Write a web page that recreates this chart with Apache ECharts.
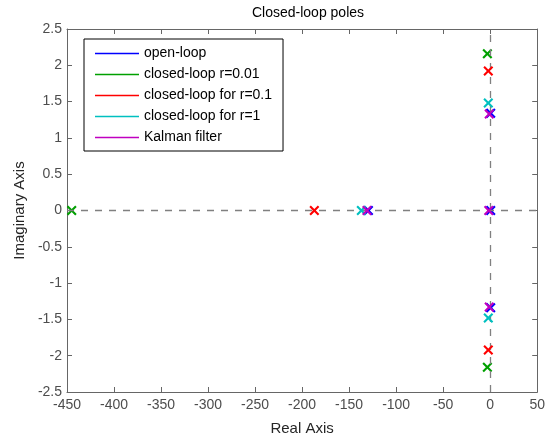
<!DOCTYPE html>
<html><head><meta charset="utf-8">
<script src="https://cdn.jsdelivr.net/npm/echarts@6/dist/echarts.min.js"></script>
<style>html,body{margin:0;padding:0;background:#fff}#c{width:548px;height:441px}</style>
</head><body><div id="c"></div>
<script>
const seriesNames = ['open-loop','closed-loop r=0.01','closed-loop for r=0.1','closed-loop for r=1','Kalman filter'];
const seriesColors = ['#0000ff','#00a000','#ff0000','#00c0c0','#c000c0'];
const openLoop = [[0.5,0],[-129.5,0],[0.5,1.34],[0.5,-1.34]];
const closedR001 = [[-445,0],[-3,2.16],[-3,-2.16]];
const closedR01 = [[-187,0],[-2,1.92],[-2,-1.92]];
const closedR1 = [[-137,0],[-2,1.48],[-2,-1.48]];
const kalman = [[-1.5,0],[-131,0],[-1,1.33],[-1,-1.33]];
const allData = [openLoop, closedR001, closedR01, closedR1, kalman];

const cross = 'path://M0,1.5L1.5,0L5,3.5L8.5,0L10,1.5L6.5,5L10,8.5L8.5,10L5,6.5L1.5,10L0,8.5L3.5,5Z';
const FONT = 'Liberation Sans';
const axisCol = '#666666';
const labCol = '#4d4d4d';

const series = seriesNames.map((n,i)=>({
  name:n, type:'scatter', data:allData[i], symbol:cross, symbolSize:10,
  itemStyle:{color:seriesColors[i], opacity:1}, z:3+i, silent:true
}));
series.unshift({
  type:'scatter', data:[], silent:true, z:1,
  markLine:{silent:true, symbol:'none', label:{show:false},
    lineStyle:{color:'#808080', type:[7,7], width:1.3},
    data:[{xAxis:0},{yAxis:0}]}
});

const chart = echarts.init(document.getElementById('c'), null, {renderer:'canvas'});
chart.setOption({
  animation:false,
  backgroundColor:'#fff',
  title:{text:'Closed-loop poles', left:303, top:1, textAlign:'center',
    textStyle:{fontFamily:FONT, fontSize:14, fontWeight:'normal', color:'#000'}},
  grid:{left:67, right:5, top:29, bottom:47},
  legend:{orient:'vertical', left:84, top:39, data:seriesNames.map(n=>({name:n, icon:'rect'})),
    itemWidth:44, itemHeight:1.5, itemGap:6, padding:[7,11,6,11],
    borderColor:'#000', borderWidth:1, backgroundColor:'#fff',
    textStyle:{fontFamily:FONT, fontSize:14, color:'#000', lineHeight:15}, selectedMode:false},
  xAxis:[{type:'value', min:-450, max:50, interval:50, position:'bottom',
    name:'Real Axis', nameLocation:'middle', nameGap:29,
    nameTextStyle:{fontFamily:FONT, fontSize:15, color:'#262626'},
    axisLine:{onZero:false, lineStyle:{color:axisCol}}, axisTick:{inside:true, length:5, lineStyle:{color:axisCol}},
    axisLabel:{fontFamily:FONT, fontSize:14, color:labCol, margin:6}, splitLine:{show:false}},
   {type:'value', min:-450, max:50, interval:50, position:'top',
    axisLine:{onZero:false, lineStyle:{color:axisCol}}, axisTick:{inside:true, length:5, lineStyle:{color:axisCol}},
    axisLabel:{show:false}, splitLine:{show:false}}],
  yAxis:[{type:'value', min:-2.5, max:2.5, interval:0.5, position:'left',
    name:'Imaginary Axis', nameLocation:'middle', nameGap:40,
    nameTextStyle:{fontFamily:FONT, fontSize:15, color:'#262626'},
    axisLine:{onZero:false, lineStyle:{color:axisCol}}, axisTick:{inside:true, length:5, lineStyle:{color:axisCol}},
    axisLabel:{fontFamily:FONT, fontSize:14, color:labCol, margin:5}, splitLine:{show:false}},
   {type:'value', min:-2.5, max:2.5, interval:0.5, position:'right',
    axisLine:{onZero:false, lineStyle:{color:axisCol}}, axisTick:{inside:true, length:5, lineStyle:{color:axisCol}},
    axisLabel:{show:false}, splitLine:{show:false}}],
  series:series
});
</script></body></html>
